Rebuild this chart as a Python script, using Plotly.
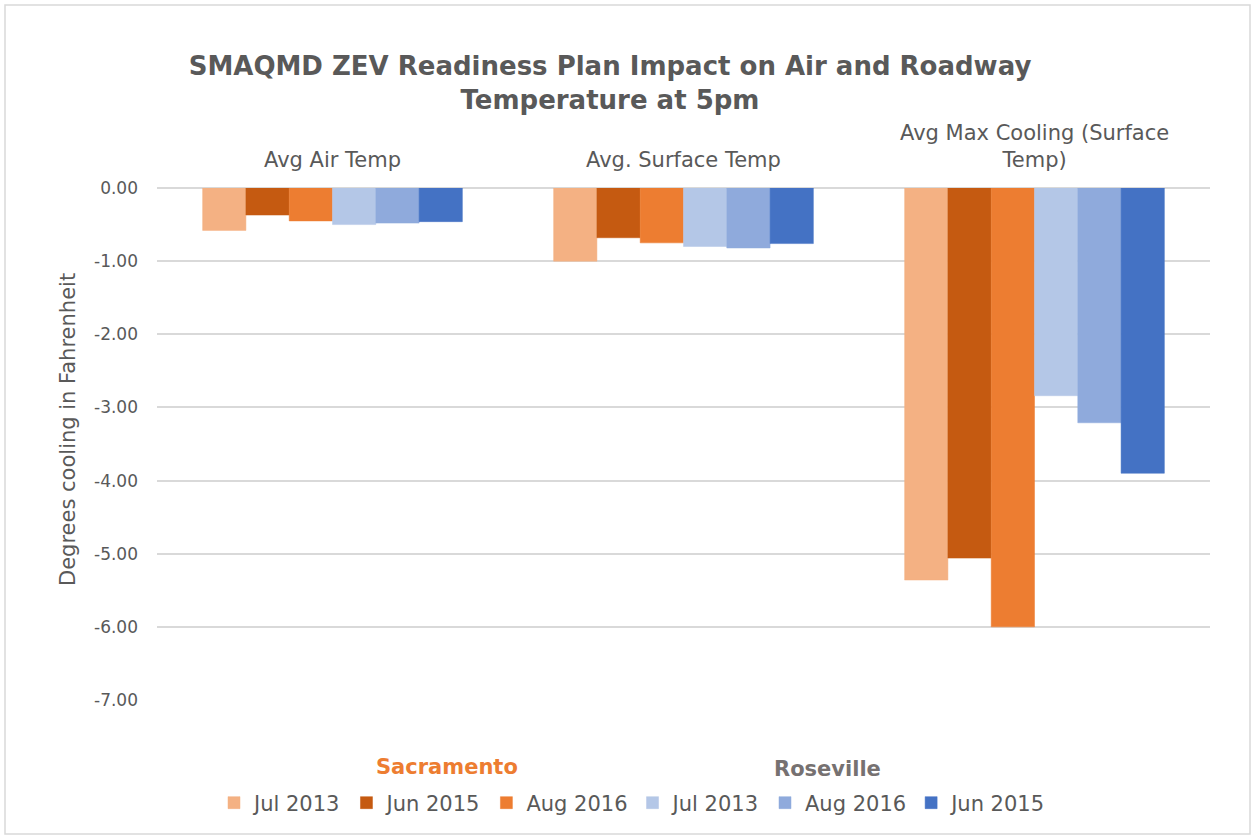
import plotly.graph_objects as go

categories = ["Avg Air Temp", "Avg. Surface Temp", "Avg Max Cooling (Surface Temp)"]
category_labels = ["Avg Air Temp", "Avg. Surface Temp", "Avg Max Cooling (Surface<br>Temp)"]
series_names = ["Jul 2013", "Jun 2015", "Aug 2016", "Jul 2013", "Aug 2016", "Jun 2015"]
series_groups = ["Sacramento", "Sacramento", "Sacramento", "Roseville", "Roseville", "Roseville"]
sac_jul2013 = [-0.58, -1.00, -5.36]
sac_jun2015 = [-0.37, -0.68, -5.06]
sac_aug2016 = [-0.45, -0.75, -6.00]
ros_jul2013 = [-0.50, -0.80, -2.84]
ros_aug2016 = [-0.48, -0.82, -3.21]
ros_jun2015 = [-0.46, -0.76, -3.90]
series_values = [sac_jul2013, sac_jun2015, sac_aug2016, ros_jul2013, ros_aug2016, ros_jun2015]
colors = ["#F4B183", "#C55A11", "#ED7D31", "#B4C7E7", "#8FAADC", "#4472C4"]
y_ticks = [0, -1, -2, -3, -4, -5, -6, -7]
y_ticktext = [f"{v:.2f}" for v in y_ticks]

FONT = "'DejaVu Sans', sans-serif"
GREY = "#595959"

pl, pr, pt, pb = 157, 43, 188, 137
W, H = 1253, 837
PW, PH = W - pl - pr, H - pt - pb


def px2paper(px, py):
    return (px - pl) / PW, 1 - (py - pt) / PH


fig = go.Figure()
for name, grp, vals, col in zip(series_names, series_groups, series_values, colors):
    fig.add_trace(go.Bar(
        x=categories, y=vals, name=name, legendgroup=grp,
        marker=dict(color=col, line=dict(color=col, width=0.5)),
    ))

for cat, lab in zip(categories, category_labels):
    fig.add_annotation(x=cat, xref="x", y=1, yref="paper", yanchor="bottom",
                       yshift=14, text=lab, showarrow=False,
                       font=dict(family=FONT, size=21, color=GREY))

sx, sy = px2paper(447, 767)
fig.add_annotation(x=sx, xref="paper", y=sy, yref="paper", text="<b>Sacramento</b>",
                   xanchor="center", yanchor="middle",
                   showarrow=False, font=dict(family=FONT, size=21, color="#ED7D31"))
rx, ry = px2paper(827, 769)
fig.add_annotation(x=rx, xref="paper", y=ry, yref="paper", text="<b>Roseville</b>",
                   xanchor="center", yanchor="middle",
                   showarrow=False, font=dict(family=FONT, size=21, color="#767171"))

tx, ty = px2paper(68, 430)
fig.add_annotation(x=tx, xref="paper", y=ty, yref="paper", text="Degrees cooling in Fahrenheit",
                   textangle=-90, xanchor="center", yanchor="middle",
                   showarrow=False, font=dict(family=FONT, size=21, color=GREY))

fig.add_shape(type="rect", xref="paper", yref="paper",
              x0=-(pl - 5) / PW, x1=1 + (pr - 3) / PW,
              y0=-(pb - 3) / PH, y1=1 + (pt - 5) / PH,
              line=dict(color="#D9D9D9", width=1.5))

lx, ly = px2paper(633, 803)
fig.update_layout(
    width=W, height=H,
    margin=dict(l=pl, r=pr, t=pt, b=pb, autoexpand=False),
    paper_bgcolor="white", plot_bgcolor="white",
    barmode="group", bargap=0.26, bargroupgap=0,
    title=dict(text="<b>SMAQMD ZEV Readiness Plan Impact on Air and Roadway<br>Temperature at 5pm</b>",
               x=610 / W, xanchor="center", y=1 - 75 / H, yanchor="middle",
               font=dict(family=FONT, size=26, color=GREY)),
    xaxis=dict(showticklabels=False, showgrid=False, zeroline=False, showline=False,
               ticks=""),
    yaxis=dict(range=[-7, 0], tickvals=y_ticks, ticktext=y_ticktext, automargin=False,
               showgrid=True, gridcolor="#D9D9D9", gridwidth=1.5,
               zeroline=True, zerolinecolor="#D9D9D9", zerolinewidth=1.5,
               tickfont=dict(family=FONT, size=17, color=GREY), ticklabelstandoff=18),
    legend=dict(orientation="h", x=lx, xanchor="center", y=ly, yanchor="middle",
                font=dict(family=FONT, size=21, color=GREY),
                traceorder="normal", itemwidth=30, tracegroupgap=0),
    showlegend=True,
)

fig.write_html("out.html", config={"displayModeBar": False})

with open("out.html", encoding="utf-8") as f:
    html = f.read()
html = html.replace("<head>", "<head><style>html,body{margin:0;padding:0;overflow:hidden}</style>", 1)
with open("out.html", "w", encoding="utf-8") as f:
    f.write(html)
